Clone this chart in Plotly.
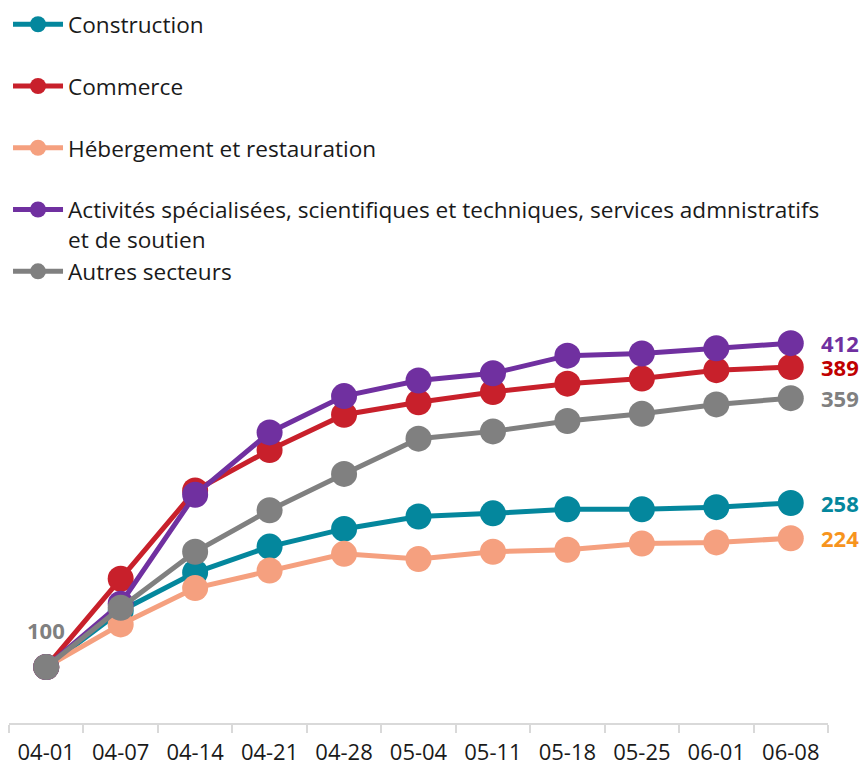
import plotly.graph_objects as go

dates = ["04-01", "04-07", "04-14", "04-21", "04-28", "05-04", "05-11", "05-18", "05-25", "06-01", "06-08"]

construction = [100, 154, 191, 216, 233, 245, 248, 252, 252, 254, 258]
commerce = [100, 185, 270, 309, 343, 355, 365, 373, 378, 386, 389]
hebergement = [100, 141, 176, 193, 209, 204, 211, 213, 219, 220, 224]
activites = [100, 161, 266, 326, 361, 376, 383, 400, 402, 407, 412]
autres = [100, 157, 211, 251, 286, 320, 327, 337, 344, 353, 359]

names = [
    "Construction",
    "Commerce",
    "Hébergement et restauration",
    "Activités spécialisées, scientifiques et techniques, services admnistratifs<br>et de soutien",
    "Autres secteurs",
]
series = [construction, commerce, hebergement, activites, autres]
line_colors = ["#04879d", "#c8202b", "#f5a07f", "#7030a0", "#808080"]
label_colors = ["#04879d", "#c00000", "#f7941d", "#7030a0", "#808080"]

FONT = "Open Sans"

fig = go.Figure()
for i, (nm, ys, col) in enumerate(zip(names, series, line_colors)):
    legend_name = nm if "<br>" in nm else nm + "<br> "
    fig.add_trace(go.Scatter(
        x=dates, y=ys, name=legend_name, mode="lines+markers",
        line=dict(color=col, width=5),
        marker=dict(color=col, size=26),
        legendgroup=f"g{i}",
        hoverinfo="skip",
    ))

# end labels
for ys, col in zip(series, label_colors):
    fig.add_annotation(
        x=dates[-1], y=ys[-1], text=f"<b>{ys[-1]}</b>", showarrow=False,
        xanchor="left", yanchor="middle", xshift=28,
        font=dict(family=FONT, size=22, color=col),
    )
# start label
fig.add_annotation(
    x=dates[0], y=autres[0], text=f"<b>{autres[0]}</b>", showarrow=False,
    xanchor="center", yanchor="middle", yshift=37,
    font=dict(family=FONT, size=22, color="#808080"),
)

fig.update_layout(
    width=859, height=762,
    paper_bgcolor="white", plot_bgcolor="white",
    margin=dict(l=1, r=39, t=292, b=47, autoexpand=False),
    font=dict(family=FONT, color="#1a1a1a"),
    showlegend=True,
    legend=dict(
        x=-0.0012, y=1.702, xanchor="left", yanchor="top",
        font=dict(family=FONT, size=22.6, color="#1a1a1a"),
        valign="top", tracegroupgap=0, itemwidth=50,
        bgcolor="rgba(0,0,0,0)",
        itemclick=False, itemdoubleclick=False,
    ),
    xaxis=dict(
        type="category", range=[-0.5, 10.5],
        showgrid=False, zeroline=False,
        showline=True, linecolor="#d9d9d9", linewidth=2,
        ticks="outside", tickson="boundaries", ticklen=8, tickcolor="#d9d9d9", tickwidth=2,
        tickfont=dict(family=FONT, size=22, color="#1a1a1a"),
        ticklabelstandoff=9,
        fixedrange=True,
    ),
    yaxis=dict(
        range=[46, 453.6], visible=False, showgrid=False, zeroline=False, fixedrange=True,
    ),
)

fig.write_html("out.html")
